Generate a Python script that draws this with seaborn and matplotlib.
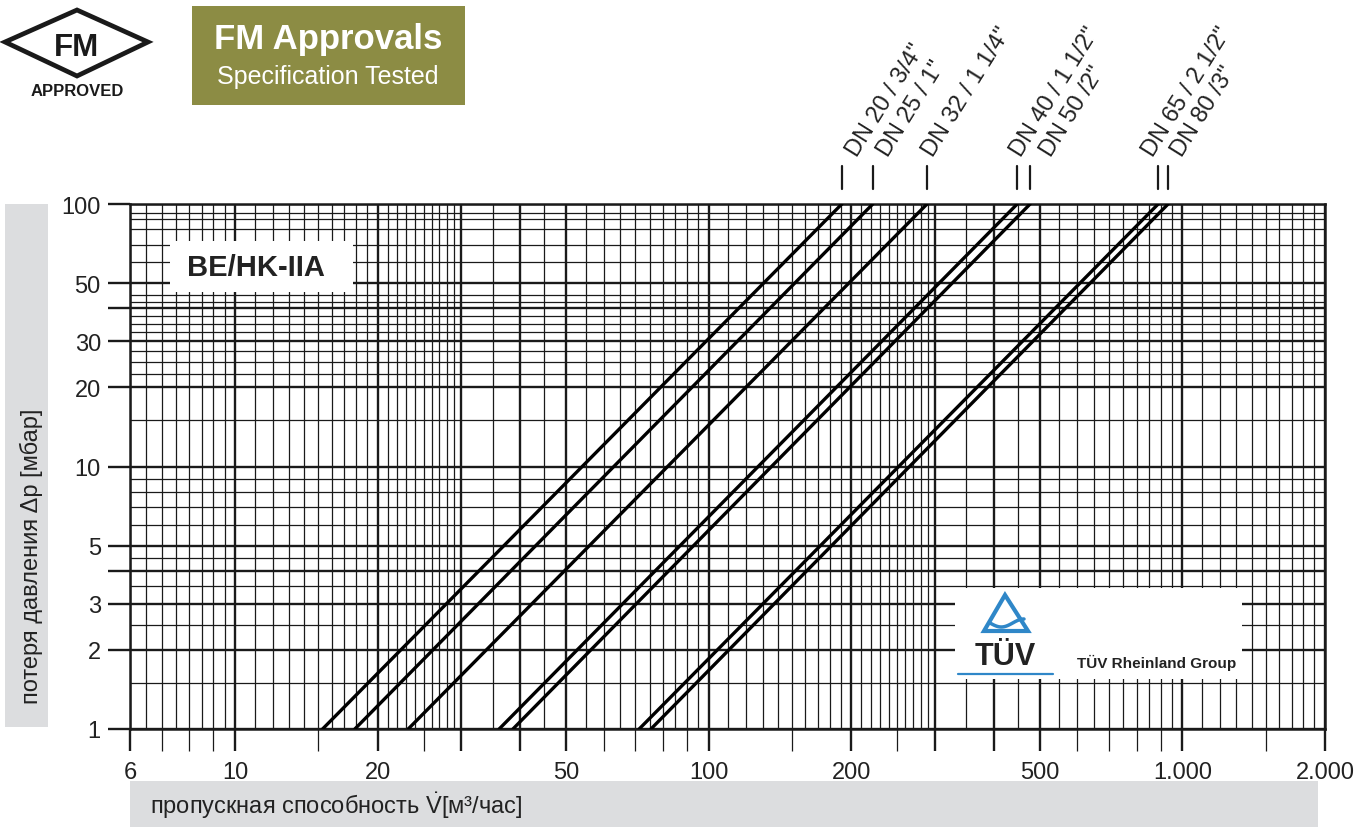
import numpy as np
import pandas as pd
import matplotlib
matplotlib.use("Agg")
import matplotlib.pyplot as plt
import matplotlib.patches as mpatches
import matplotlib.transforms as mtransforms
from matplotlib.lines import Line2D
from matplotlib.ticker import FixedLocator, NullLocator, NullFormatter
import seaborn as sns

sns.set_theme(style="white")
plt.rcParams['font.family'] = ['Liberation Sans', 'DejaVu Sans']
plt.rcParams['mathtext.fontset'] = 'custom'
plt.rcParams['mathtext.rm'] = 'Liberation Sans'
plt.rcParams['mathtext.it'] = 'Liberation Sans:italic'

# Pressure loss curves: flow rate at 1 mbar and at 100 mbar for each size
sizes = ['DN 20 / 3/4"', 'DN 25 / 1"', 'DN 32 / 1 1/4"', 'DN 40 / 1 1/2"',
         'DN 50 /2"', 'DN 65 / 2 1/2"', 'DN 80 /3"']
flow_at_1mbar = [15.3, 17.9, 23.2, 36.1, 38.6, 71.3, 75.5]
flow_at_100mbar = [191, 222, 289, 448, 477, 889, 933]
dp_ends = [1, 100]

x_tick_values = [6, 10, 20, 50, 100, 200, 500, 1000, 2000]
x_tick_labels = ['6', '10', '20', '50', '100', '200', '500', '1.000', '2.000']
y_tick_values = [1, 2, 3, 5, 10, 20, 30, 50, 100]
y_tick_labels = ['1', '2', '3', '5', '10', '20', '30', '50', '100']

# Log paper rulings
x_heavy = [6, 10, 20, 30, 40, 50, 100, 200, 300, 400, 500, 1000, 2000]
x_marked = [7, 8, 9, 15, 25, 60, 70, 80, 90, 150, 250, 600, 700, 800, 900, 1500]
x_fine = sorted(set(np.round(np.concatenate([
    np.arange(6, 10, 0.5), np.arange(10, 30, 1), np.arange(30, 100, 5),
    np.arange(100, 300, 10), np.arange(300, 1000, 50), np.arange(1000, 2001, 100)]), 3)))
y_heavy = [1, 2, 3, 4, 5, 10, 20, 30, 40, 50, 100]
y_fine = [1.5, 2.5, 3.5, 4.5, 6, 7, 8, 9, 15, 22.5, 25, 27.5, 32.5, 35, 37.5,
          42.5, 45, 60, 70, 80, 87.5, 92.5]

# horizontal nudges (px) of the size captions relative to their marker
caption_shift = [15, 15, 6, 4, 21, -5, 14]

W, H = 1358, 828
fig = plt.figure(figsize=(W / 100, H / 100), dpi=100)
fig.patch.set_facecolor('white')
px = mtransforms.Affine2D().scale(1 / W, -1 / H).translate(0, 1) + fig.transFigure

L, R, T, B = 130, 1325, 205, 730
ax = fig.add_axes([L / W, 1 - B / H, (R - L) / W, (B - T) / H])
ax.set_xscale('log')
ax.set_yscale('log')
ax.set_xlim(6, 2000)
ax.set_ylim(1, 100)
ax.set_facecolor('white')

ink = '#1a1a1a'
for v in x_fine:
    if v in x_heavy:
        continue
    ax.axvline(v, color=ink, lw=0.9, zorder=1)
for v in x_heavy:
    ax.axvline(v, color=ink, lw=1.7, zorder=1)
for v in y_fine:
    ax.axhline(v, color=ink, lw=0.9, zorder=1)
for v in y_heavy:
    ax.axhline(v, color=ink, lw=1.7, zorder=1)

for s in ax.spines.values():
    s.set_linewidth(1.8)
    s.set_color(ink)

# ticks
ax.xaxis.set_major_locator(FixedLocator(x_heavy))
ax.set_xticklabels([x_tick_labels[x_tick_values.index(v)] if v in x_tick_values else ''
                    for v in x_heavy])
ax.xaxis.set_minor_locator(FixedLocator(x_marked))
ax.xaxis.set_minor_formatter(NullFormatter())
ax.yaxis.set_major_locator(FixedLocator(y_heavy))
ax.set_yticklabels([y_tick_labels[y_tick_values.index(v)] if v in y_tick_values else ''
                    for v in y_heavy])
ax.yaxis.set_minor_locator(NullLocator())
ax.tick_params(axis='x', which='major', direction='out', length=16, width=1.7,
               color=ink, labelsize=17, labelcolor='#222222', pad=7, bottom=True)
ax.tick_params(axis='x', which='minor', direction='out', length=16, width=0.9,
               color=ink, bottom=True)
ax.tick_params(axis='y', which='major', direction='out', length=16, width=1.7,
               color=ink, labelsize=17, labelcolor='#222222', pad=5, left=True)

# curves
rows = []
for name, f1, f100 in zip(sizes, flow_at_1mbar, flow_at_100mbar):
    rows.append({'size': name, 'flow': f1, 'dp': dp_ends[0]})
    rows.append({'size': name, 'flow': f100, 'dp': dp_ends[1]})
df = pd.DataFrame(rows)
sns.lineplot(data=df, x='flow', y='dp', hue='size', palette=['black'] * len(sizes),
             estimator=None, sort=False, legend=False, linewidth=2.4, ax=ax, zorder=4)
ax.set_xlabel('')
ax.set_ylabel('')

# size captions above the plot, each with a marker at the curve's 100 mbar flow
top_tr = mtransforms.blended_transform_factory(ax.transData, px)
for name, f100, dx in zip(sizes, flow_at_100mbar, caption_shift):
    ax.plot([f100, f100], [167, 190], color=ink, lw=1.6, transform=top_tr, clip_on=False)
    ax.text(f100, 158, name,
            transform=top_tr + mtransforms.ScaledTranslation(dx / 100, 0, fig.dpi_scale_trans),
            rotation=58, rotation_mode='anchor', ha='left', va='baseline',
            fontsize=17, color='#222222')

# model box
ax.add_patch(mpatches.Rectangle((170, 242), 183, 51, transform=px, facecolor='white',
                                edgecolor='none', zorder=5, clip_on=False))
fig.text(256, 268, 'BE/HK-IIA', transform=px, ha='center', va='center',
         fontsize=21, fontweight='bold', color='#222222', zorder=6)

# TÜV badge
ax.add_patch(mpatches.Rectangle((955, 589), 287, 91, transform=px, facecolor='white',
                                edgecolor='none', zorder=5, clip_on=False))
tuv_blue = '#2f87c8'
fig.patches.append(mpatches.Polygon([(1005, 596), (984, 632), (1028, 632)], closed=True,
                                    transform=px, facecolor='white', edgecolor=tuv_blue,
                                    lw=3.0, zorder=7))
wave_x = np.linspace(990, 1024, 30)
wave_y = 624 + 4 * np.sin((wave_x - 990) / 34 * np.pi * 1.5)
fig.lines.append(Line2D(wave_x, wave_y, transform=px, color=tuv_blue, lw=2.5, zorder=8))
fig.text(1005, 657, 'TÜV', transform=px, ha='center', va='center', fontsize=22,
         fontweight='bold', color='#222222', zorder=8)
fig.lines.append(Line2D([958, 1053], [675, 675], transform=px, color=tuv_blue,
                        lw=1.6, zorder=8))
fig.text(1077, 668, 'TÜV Rheinland Group', transform=px, ha='left', va='baseline',
         fontsize=11, fontweight='bold', color='#222222', zorder=8)

# axis title boxes
grey = '#dcdddf'
fig.patches.append(mpatches.Rectangle((130, 782), 1188, 46, transform=px,
                                      facecolor=grey, edgecolor='none', zorder=0))
fig.text(150, 806, r'пропускная способность $\dot{\mathrm{V}}$[м³/час]', transform=px,
         ha='left', va='center', fontsize=17, color='#222222')
fig.patches.append(mpatches.Rectangle((5, 205), 43, 523, transform=px,
                                      facecolor=grey, edgecolor='none', zorder=0))
fig.text(31, 556, 'потеря давления Δp [мбар]', transform=px, ha='center',
         va='center', rotation=90, fontsize=17, color='#222222')

# FM approval marks
fig.patches.append(mpatches.Polygon([(5, 43), (77, 11), (148, 43), (77, 77)], closed=True,
                                    transform=px, facecolor='white', edgecolor='#1a1a1a',
                                    lw=3.4, zorder=2))
fig.text(77, 48, 'FM', transform=px, ha='center', va='center', fontsize=22.5,
         fontweight='bold', color='#1a1a1a', zorder=3)
fig.patches.append(mpatches.Rectangle((30, 82), 94, 16, transform=px, facecolor='white',
                                      edgecolor='none', zorder=2))
fig.text(77, 91, 'APPROVED', transform=px, ha='center', va='center', fontsize=12,
         fontweight='bold', color='#1a1a1a', zorder=3)

fig.patches.append(mpatches.Rectangle((192, 7), 273, 99, transform=px,
                                      facecolor='#8c8c44', edgecolor='none', zorder=1))
fig.text(328, 39, 'FM Approvals', transform=px, ha='center', va='center',
         fontsize=25, fontweight='bold', color='white', zorder=3)
fig.text(328, 77, 'Specification Tested', transform=px, ha='center', va='center',
         fontsize=18, color='white', zorder=3)

fig.savefig('out.png', dpi=100, facecolor='white')
